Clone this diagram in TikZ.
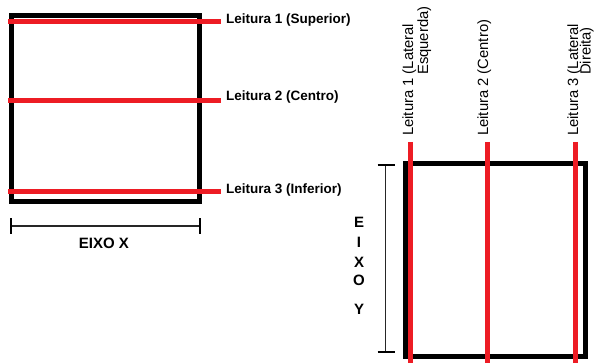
\documentclass[tikz,border=0pt]{standalone}
\usepackage{fontspec}
\setmainfont{Liberation Sans}
\definecolor{pred}{RGB}{237,28,36}
\tikzset{
  frame/.style={draw=black, line width=5pt},
  redline/.style={draw=pred, line width=5pt},
  bracketline/.style={draw=black!85, line width=1.1pt},
  bracketcap/.style={draw=black, line width=2pt},
  hlabel/.style={font=\fontsize{13.5}{16}\selectfont\bfseries, inner sep=0pt, anchor=base west},
  vlabel/.style={font=\fontsize{14.8}{17}\selectfont, inner sep=0pt, anchor=base west, rotate=90},
  axislabel/.style={font=\fontsize{15}{18}\selectfont\bfseries, inner sep=0pt},
}
\begin{document}
\begin{tikzpicture}[x=1pt, y=-1pt]
\useasboundingbox (0,0) rectangle (594,363);
% left square
\coordinate (LA) at (11.5,15.5);
\coordinate (LB) at (199.5,202);
\draw[frame] (LA) rectangle (LB);
% horizontal readings
\coordinate (h1s) at (8,21.5);   \coordinate (h1e) at (221,21.5);
\coordinate (h2s) at (8,101);    \coordinate (h2e) at (221,101);
\coordinate (h3s) at (8,191.5);  \coordinate (h3e) at (221,191.5);
\draw[redline] (h1s) -- (h1e);
\draw[redline] (h2s) -- (h2e);
\draw[redline] (h3s) -- (h3e);
\node[hlabel] (t1) at (226,24) {Leitura 1 (Superior)};
\node[hlabel] (t2) at (226,101) {Leitura 2 (Centro)};
\node[hlabel] (t3) at (226,193.5) {Leitura 3 (Inferior)};
% EIXO X bracket
\coordinate (bx1) at (11,226);
\coordinate (bx2) at (200,226);
\draw[bracketline] (bx1) -- (bx2);
\draw[bracketcap] ([yshift=-8pt]bx1) -- ([yshift=8pt]bx1);
\draw[bracketcap] ([yshift=-8pt]bx2) -- ([yshift=8pt]bx2);
\node[axislabel] (ex) at (104,243) {EIXO X};
% right square
\coordinate (RA) at (405.5,163.5);
\coordinate (RB) at (585.5,356.5);
\draw[frame] (RA) rectangle (RB);
% vertical readings
\coordinate (v1s) at (410,142);   \coordinate (v1e) at (410,363);
\coordinate (v2s) at (487.7,142); \coordinate (v2e) at (487.7,363);
\coordinate (v3s) at (575.7,142); \coordinate (v3e) at (575.7,363);
\draw[redline] (v1s) -- (v1e);
\draw[redline] (v2s) -- (v2e);
\draw[redline] (v3s) -- (v3e);
\node[vlabel] (u1a) at (413,136) {Leitura 1 (Lateral};
\node[vlabel] (u1b) at (428,75) {Esquerda)};
\node[vlabel] (u2) at (488,136) {Leitura 2 (Centro)};
\node[vlabel] (u3a) at (578,136) {Leitura 3 (Lateral};
\node[vlabel] (u3b) at (590.5,75) {Direita)};
% EIXO Y bracket
\coordinate (by1) at (385.7,165);
\coordinate (by2) at (385.7,352);
\draw[bracketline] (by1) -- (by2);
\draw[bracketcap] ([xshift=-8pt]by1) -- ([xshift=9pt]by1);
\draw[bracketcap] ([xshift=-8pt]by2) -- ([xshift=9pt]by2);
\node[axislabel] (eyE) at (359,222.5) {E};
\node[axislabel] (eyI) at (359,242) {I};
\node[axislabel] (eyX) at (359,262) {X};
\node[axislabel] (eyO) at (359,280) {O};
\node[axislabel] (eyY) at (359,309.5) {Y};
\end{tikzpicture}
\end{document}
